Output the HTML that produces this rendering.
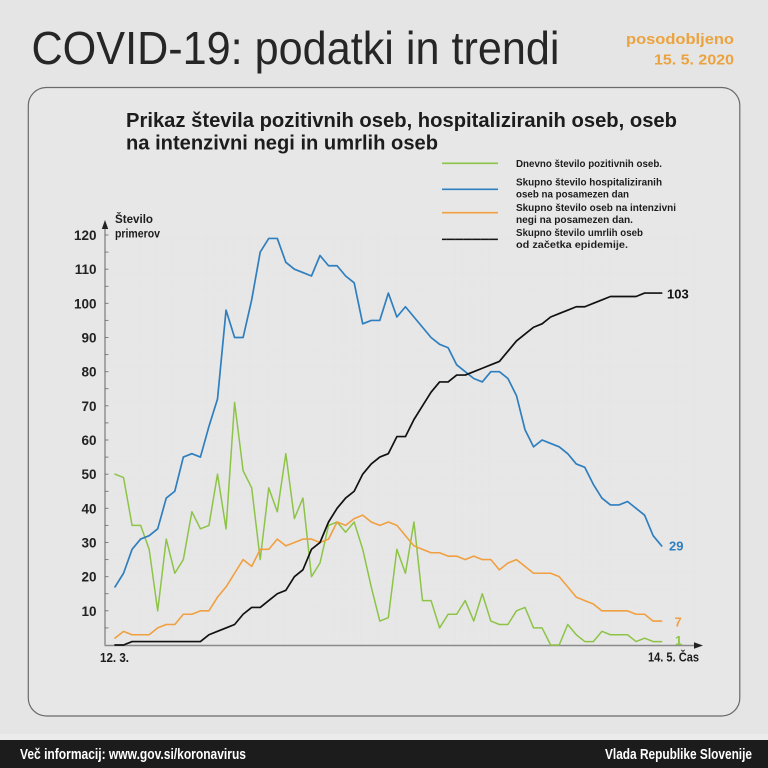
<!DOCTYPE html>
<html>
<head>
<meta charset="utf-8">
<style>
html,body{margin:0;padding:0;background:#e5e5e5;}
svg{display:block;}
text{font-family:"Liberation Sans",sans-serif;}
</style>
</head>
<body>
<svg width="768" height="768" viewBox="0 0 768 768" xmlns="http://www.w3.org/2000/svg">
  <defs>
    <pattern id="grid" x="105" y="0" width="8.54" height="8.54" patternUnits="userSpaceOnUse">
      <path d="M8.54 0V8.54M0 8.54H8.54" stroke="#dcdcdc" stroke-width="0.5" fill="none"/>
    </pattern>
  </defs>
  <rect x="0" y="0" width="768" height="768" fill="#e5e5e5"/>

  <!-- Title -->
  <text x="31.5" y="64" font-size="46" fill="#262626" textLength="528" lengthAdjust="spacingAndGlyphs">COVID-19: podatki in trendi</text>
  <text x="734" y="44" font-size="15" font-weight="bold" fill="#eba33f" text-anchor="end" textLength="108" lengthAdjust="spacingAndGlyphs">posodobljeno</text>
  <text x="734" y="64.5" font-size="15" font-weight="bold" fill="#eba33f" text-anchor="end" textLength="80" lengthAdjust="spacingAndGlyphs">15. 5. 2020</text>

  <!-- Box -->
  <rect x="28.3" y="87.5" width="711.5" height="628.5" rx="18" ry="18" fill="#e7e7e7" stroke="#6a6a6a" stroke-width="1.2"/>

  <!-- Subtitle -->
  <text x="126" y="127" font-size="20" font-weight="bold" fill="#1c1c1c" textLength="551" lengthAdjust="spacingAndGlyphs">Prikaz števila pozitivnih oseb, hospitaliziranih oseb, oseb</text>
  <text x="126" y="149.5" font-size="20" font-weight="bold" fill="#1c1c1c" textLength="312" lengthAdjust="spacingAndGlyphs">na intenzivni negi in umrlih oseb</text>

  <!-- Legend -->
  <g stroke-width="1.6">
    <line x1="442" y1="163.3" x2="498" y2="163.3" stroke="#8dc447"/>
    <line x1="442" y1="189.3" x2="498" y2="189.3" stroke="#2f7fbf"/>
    <line x1="442" y1="212.7" x2="498" y2="212.7" stroke="#f0a040"/>
    <line x1="442" y1="239.3" x2="498" y2="239.3" stroke="#111"/>
  </g>
  <g font-size="10.5" font-weight="bold" fill="#1c1c1c">
    <text x="516" y="167" textLength="146" lengthAdjust="spacingAndGlyphs">Dnevno število pozitivnih oseb.</text>
    <text x="516" y="185.5" textLength="146" lengthAdjust="spacingAndGlyphs">Skupno število hospitaliziranih</text>
    <text x="516" y="197.5" textLength="113" lengthAdjust="spacingAndGlyphs">oseb na posamezen dan</text>
    <text x="516" y="211" textLength="160" lengthAdjust="spacingAndGlyphs">Skupno število oseb na intenzivni</text>
    <text x="516" y="223" textLength="117" lengthAdjust="spacingAndGlyphs">negi na posamezen dan.</text>
    <text x="516" y="236" textLength="127" lengthAdjust="spacingAndGlyphs">Skupno število umrlih oseb</text>
    <text x="516" y="248" textLength="112" lengthAdjust="spacingAndGlyphs">od začetka epidemije.</text>
  </g>

  <!-- Grid -->
  <rect x="106" y="228" width="594" height="417" fill="url(#grid)" opacity="0.5"/>

  <!-- Axis labels -->
  <text x="115" y="223" font-size="12" font-weight="bold" fill="#1c1c1c" textLength="38" lengthAdjust="spacingAndGlyphs">Število</text>
  <text x="115" y="237.5" font-size="12" font-weight="bold" fill="#1c1c1c" textLength="45" lengthAdjust="spacingAndGlyphs">primerov</text>

  <g font-size="13.5" font-weight="bold" fill="#222" text-anchor="end">
    <text x="96.5" y="240">120</text>
    <text x="96.5" y="274.2">110</text>
    <text x="96.5" y="308.3">100</text>
    <text x="96.5" y="342.5">90</text>
    <text x="96.5" y="376.7">80</text>
    <text x="96.5" y="410.8">70</text>
    <text x="96.5" y="445">60</text>
    <text x="96.5" y="479.2">50</text>
    <text x="96.5" y="513.3">40</text>
    <text x="96.5" y="547.5">30</text>
    <text x="96.5" y="581.7">20</text>
    <text x="96.5" y="615.8">10</text>
  </g>

  <!-- Y ticks -->
  <g stroke="#777" stroke-width="0.9">
    <line x1="105" y1="235" x2="108.5" y2="235"/><line x1="105" y1="252.1" x2="108.5" y2="252.1"/>
    <line x1="105" y1="269.2" x2="108.5" y2="269.2"/><line x1="105" y1="286.3" x2="108.5" y2="286.3"/>
    <line x1="105" y1="303.3" x2="108.5" y2="303.3"/><line x1="105" y1="320.4" x2="108.5" y2="320.4"/>
    <line x1="105" y1="337.5" x2="108.5" y2="337.5"/><line x1="105" y1="354.6" x2="108.5" y2="354.6"/>
    <line x1="105" y1="371.7" x2="108.5" y2="371.7"/><line x1="105" y1="388.7" x2="108.5" y2="388.7"/>
    <line x1="105" y1="405.8" x2="108.5" y2="405.8"/><line x1="105" y1="422.9" x2="108.5" y2="422.9"/>
    <line x1="105" y1="440" x2="108.5" y2="440"/><line x1="105" y1="457.1" x2="108.5" y2="457.1"/>
    <line x1="105" y1="474.2" x2="108.5" y2="474.2"/><line x1="105" y1="491.3" x2="108.5" y2="491.3"/>
    <line x1="105" y1="508.3" x2="108.5" y2="508.3"/><line x1="105" y1="525.4" x2="108.5" y2="525.4"/>
    <line x1="105" y1="542.5" x2="108.5" y2="542.5"/><line x1="105" y1="559.6" x2="108.5" y2="559.6"/>
    <line x1="105" y1="576.7" x2="108.5" y2="576.7"/><line x1="105" y1="593.7" x2="108.5" y2="593.7"/>
    <line x1="105" y1="610.8" x2="108.5" y2="610.8"/><line x1="105" y1="627.9" x2="108.5" y2="627.9"/>
  </g>

  <!-- Axes -->
  <line x1="105" y1="645.5" x2="105" y2="226" stroke="#666" stroke-width="1"/>
  <polygon points="105,220 101.8,229 108.2,229" fill="#222"/>
  <line x1="104.5" y1="645.5" x2="697" y2="645.5" stroke="#8a8a8a" stroke-width="1.6"/>
  <polygon points="703,645.5 694,642.3 694,648.7" fill="#222"/>

  <text x="100" y="662" font-size="13" font-weight="bold" fill="#1c1c1c" textLength="29" lengthAdjust="spacingAndGlyphs">12. 3.</text>
  <text x="648" y="661.5" font-size="13" font-weight="bold" fill="#1c1c1c" textLength="51" lengthAdjust="spacingAndGlyphs">14. 5. Čas</text>

  <!-- Series -->
  <g transform="translate(115 645) scale(8.542 -3.4167)" fill="none" stroke-linejoin="round" stroke-linecap="round">
    <polyline vector-effect="non-scaling-stroke" stroke="#8dc447" stroke-width="1.5" points="0,50 1,49 2,35 3,35 4,28 5,10 6,31 7,21 8,25 9,39 10,34 11,35 12,50 13,34 14,71 15,51 16,46 17,25 18,46 19,39 20,56 21,37 22,43 23,20 24,24 25,35 26,36 27,33 28,36 29,28 30,17 31,7 32,8 33,28 34,21 35,36 36,13 37,13 38,5 39,9 40,9 41,13 42,7 43,15 44,7 45,6 46,6 47,10 48,11 49,5 50,5 51,0 52,0 53,6 54,3 55,1 56,1 57,4 58,3 59,3 60,3 61,1 62,2 63,1 64,1"/>
    <polyline vector-effect="non-scaling-stroke" stroke="#f0a040" stroke-width="1.6" points="0,2 1,4 2,3 3,3 4,3 5,5 6,6 7,6 8,9 9,9 10,10 11,10 12,14 13,17 14,21 15,25 16,23 17,28 18,28 19,31 20,29 21,30 22,31 23,31 24,30 25,31 26,36 27,35 28,37 29,38 30,36 31,35 32,36 33,35 34,32 35,29 36,28 37,27 38,27 39,26 40,26 41,25 42,26 43,25 44,25 45,22 46,24 47,25 48,23 49,21 50,21 51,21 52,20 53,17 54,14 55,13 56,12 57,10 58,10 59,10 60,10 61,9 62,9 63,7 64,7"/>
    <polyline vector-effect="non-scaling-stroke" stroke="#2f7fbf" stroke-width="1.7" points="0,17 1,21 2,28 3,31 4,32 5,34 6,43 7,45 8,55 9,56 10,55 11,64 12,72 13,98 14,90 15,90 16,101 17,115 18,119 19,119 20,112 21,110 22,109 23,108 24,114 25,111 26,111 27,108 28,106 29,94 30,95 31,95 32,103 33,96 34,99 35,96 36,93 37,90 38,88 39,87 40,82 41,80 42,78 43,77 44,80 45,80 46,78 47,73 48,63 49,58 50,60 51,59 52,58 53,56 54,53 55,52 56,47 57,43 58,41 59,41 60,42 61,40 62,38 63,32 64,29"/>
    <polyline vector-effect="non-scaling-stroke" stroke="#111" stroke-width="1.7" points="0,0 1,0 2,1 3,1 4,1 5,1 6,1 7,1 8,1 9,1 10,1 11,3 12,4 13,5 14,6 15,9 16,11 17,11 18,13 19,15 20,16 21,20 22,22 23,28 24,30 25,36 26,40 27,43 28,45 29,50 30,53 31,55 32,56 33,61 34,61 35,66 36,70 37,74 38,77 39,77 40,79 41,79 42,80 43,81 44,82 45,83 46,86 47,89 48,91 49,93 50,94 51,96 52,97 53,98 54,99 55,99 56,100 57,101 58,102 59,102 60,102 61,102 62,103 63,103 64,103"/>
  </g>

  <!-- End labels -->
  <g font-size="13" font-weight="bold">
    <text x="667" y="298.5" fill="#111">103</text>
    <text x="669" y="550.5" fill="#2f7fbf">29</text>
    <text x="674.5" y="626.5" fill="#f0a040">7</text>
    <text x="675" y="645" fill="#8dc447">1</text>
  </g>

  <!-- Footer -->
  <rect x="0" y="734" width="768" height="6" fill="#ebebeb"/>
  <rect x="0" y="740" width="768" height="28" fill="#1c1c1c"/>
  <text x="20" y="759" font-size="14.5" font-weight="bold" fill="#ffffff" textLength="226" lengthAdjust="spacingAndGlyphs">Več informacij: www.gov.si/koronavirus</text>
  <text x="752" y="759" font-size="14.5" font-weight="bold" fill="#ffffff" text-anchor="end" textLength="147" lengthAdjust="spacingAndGlyphs">Vlada Republike Slovenije</text>
</svg>
</body>
</html>
